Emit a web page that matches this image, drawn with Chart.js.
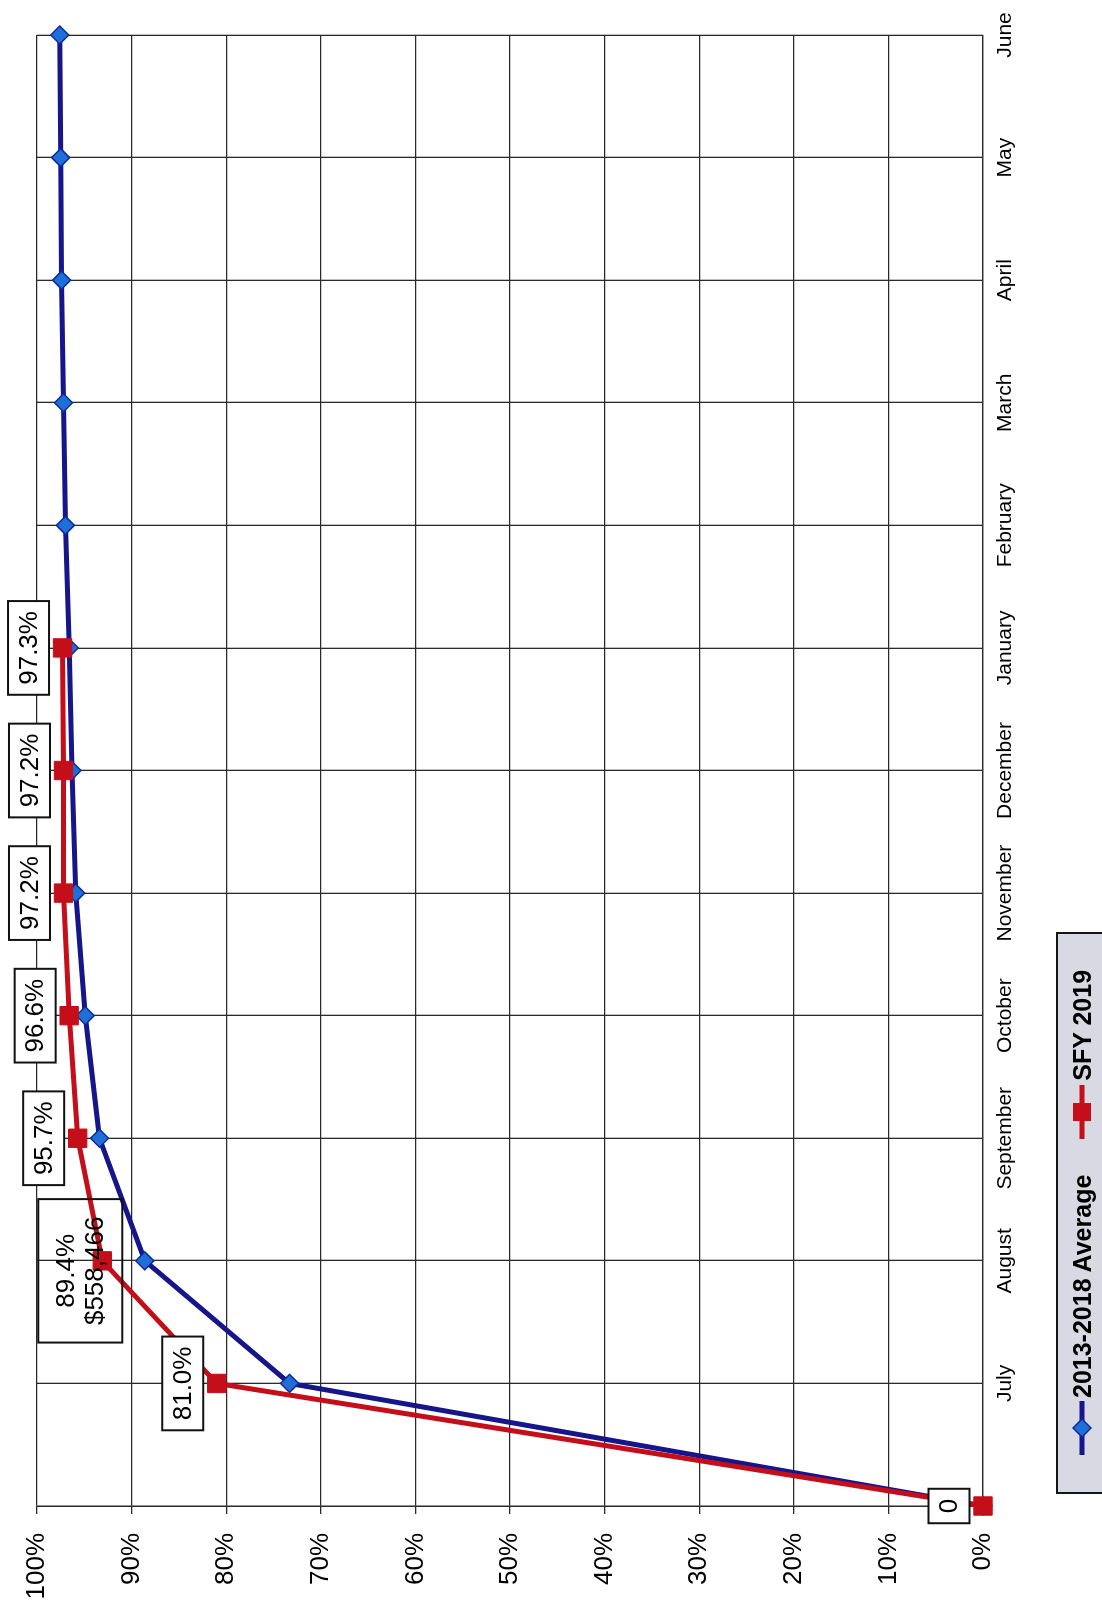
<!DOCTYPE html>
<html>
<head>
<meta charset="utf-8">
<script src="https://cdn.jsdelivr.net/npm/chart.js@4.4.0/dist/chart.umd.min.js"></script>
<style>
  html, body { margin: 0; padding: 0; background: #fff; overflow: hidden; }
  /* the scanned chart is turned a quarter turn, so draw it landscape and rotate */
  #page {
    position: absolute; left: 0; top: 0;
    width: 1606px; height: 1102px;
    transform-origin: 0 0;
    transform: translate(0, 1606px) rotate(-90deg);
    overflow: hidden; background: #fff;
  }
  #chart { position: absolute; left: 0; top: 0; }
  #legend {
    position: absolute; left: 112px; top: 1056px;
    width: 562px; height: 52px; box-sizing: border-box;
    border: 2px solid #151515; background: #d9d9e3;
    display: flex; align-items: center;
    font: bold 25px "Liberation Sans", Arial, sans-serif; color: #000;
    padding-left: 37px;
  }
  #legend svg { display: block; }
  #legend .item { display: flex; align-items: center; }
</style>
</head>
<body>
<div id="page">
  <canvas id="chart" width="1606" height="1102"></canvas>
  <div id="legend">
    <div class="item">
      <svg width="54" height="24"><line x1="0" y1="12" x2="54" y2="12" stroke="#16168a" stroke-width="5"/>
        <polygon points="27,3 36,12 27,21 18,12" fill="#1f6fd8" stroke="#0f2a9a" stroke-width="1.5"/></svg>
      <span style="margin-left:3px">2013-2018 Average</span>
    </div>
    <div class="item" style="margin-left:36px">
      <svg width="54" height="24"><line x1="0" y1="12" x2="54" y2="12" stroke="#c40f1a" stroke-width="5"/>
        <rect x="18" y="3" width="18" height="18" fill="#c40f1a"/></svg>
      <span style="margin-left:4px">SFY 2019</span>
    </div>
  </div>
</div>
<script>
const months = ['', 'July', 'August', 'September', 'October', 'November', 'December',
  'January', 'February', 'March', 'April', 'May', 'June'];
const avg2013to2018 = [0, 73.3, 88.6, 93.4, 94.9, 95.9, 96.3, 96.6, 97.0, 97.2, 97.4, 97.5, 97.6];
const sfy2019 = [0, 81.0, 93.1, 95.7, 96.6, 97.2, 97.2, 97.3, null, null, null, null, null];
const sfyLabels = ['0', '81.0%', '89.4%\n$558,466', '95.7%', '96.6%', '97.2%', '97.2%', '97.3%'];
const pctTicks = [0, 10, 20, 30, 40, 50, 60, 70, 80, 90, 100];

const FONT = '"Liberation Sans", Arial, sans-serif';
const gridColor = '#2a2a2a';

// boxed value labels on the SFY 2019 points
const boxLabels = {
  id: 'boxLabels',
  afterDatasetsDraw(chart) {
    const ctx = chart.ctx;
    const meta = chart.getDatasetMeta(1);
    ctx.save();
    ctx.font = '26px ' + FONT;
    ctx.textAlign = 'center';
    ctx.textBaseline = 'middle';
    meta.data.forEach((pt, i) => {
      const text = sfyLabels[i];
      if (!text) return;
      const lines = text.split('\n');
      const multi = lines.length > 1;
      const lh = 29;
      const tw = Math.max(...lines.map(l => ctx.measureText(l).width));
      const w = tw + (multi ? 35 : 20);
      const h = lines.length * lh + (multi ? 26 : 12);
      let cx = pt.x, cy = pt.y - 34;
      if (multi) { cx = pt.x - 10; cy = pt.y - 22; }
      // the moved two-line label sits over the line without hiding it
      if (!multi) {
        ctx.fillStyle = '#fff';
        ctx.fillRect(cx - w / 2, cy - h / 2, w, h);
      }
      ctx.lineWidth = 2;
      ctx.strokeStyle = '#111';
      ctx.strokeRect(cx - w / 2, cy - h / 2, w, h);
      ctx.fillStyle = '#000';
      lines.forEach((l, k) => {
        ctx.fillText(l, cx, cy + (k - (lines.length - 1) / 2) * lh + 1);
      });
    });
    ctx.restore();
  }
};

new Chart(document.getElementById('chart'), {
  type: 'line',
  data: {
    labels: months,
    datasets: [
      {
        label: '2013-2018 Average',
        data: avg2013to2018,
        borderColor: '#16168a',
        borderWidth: 5,
        pointStyle: 'rectRot',
        pointRadius: 9,
        pointBackgroundColor: '#1f6fd8',
        pointBorderColor: '#0f2a9a',
        pointBorderWidth: 1.5,
        tension: 0,
        clip: false,
        order: 2
      },
      {
        label: 'SFY 2019',
        data: sfy2019,
        borderColor: '#c40f1a',
        borderWidth: 5,
        pointStyle: 'rect',
        pointRadius: 13,
        pointBackgroundColor: '#c40f1a',
        pointBorderColor: '#c40f1a',
        pointBorderWidth: 1,
        tension: 0,
        clip: false,
        order: 1
      }
    ]
  },
  options: {
    responsive: false,
    animation: false,
    devicePixelRatio: 1,
    layout: { padding: { top: 37, right: 35, left: 0, bottom: 0 } },
    plugins: { legend: { display: false }, tooltip: { enabled: false } },
    scales: {
      x: {
        offset: false,
        grid: { color: gridColor, lineWidth: 1.3, drawTicks: false },
        border: { color: gridColor, width: 1.3 },
        ticks: {
          autoSkip: false, maxRotation: 0, minRotation: 0,
          color: '#000', padding: 10,
          font: { family: FONT, size: 21 }
        },
        afterFit: s => { s.height = 119; }
      },
      y: {
        min: 0, max: 100,
        afterBuildTicks: s => { s.ticks = pctTicks.map(v => ({ value: v })); },
        grid: { color: gridColor, lineWidth: 1.3, tickLength: 8 },
        border: { color: gridColor, width: 1.3 },
        ticks: {
          color: '#000', padding: 19,
          font: { family: FONT, size: 26 },
          callback: v => v + '%'
        },
        afterFit: s => { s.width = 100; }
      }
    }
  },
  plugins: [boxLabels]
});
</script>
</body>
</html>
